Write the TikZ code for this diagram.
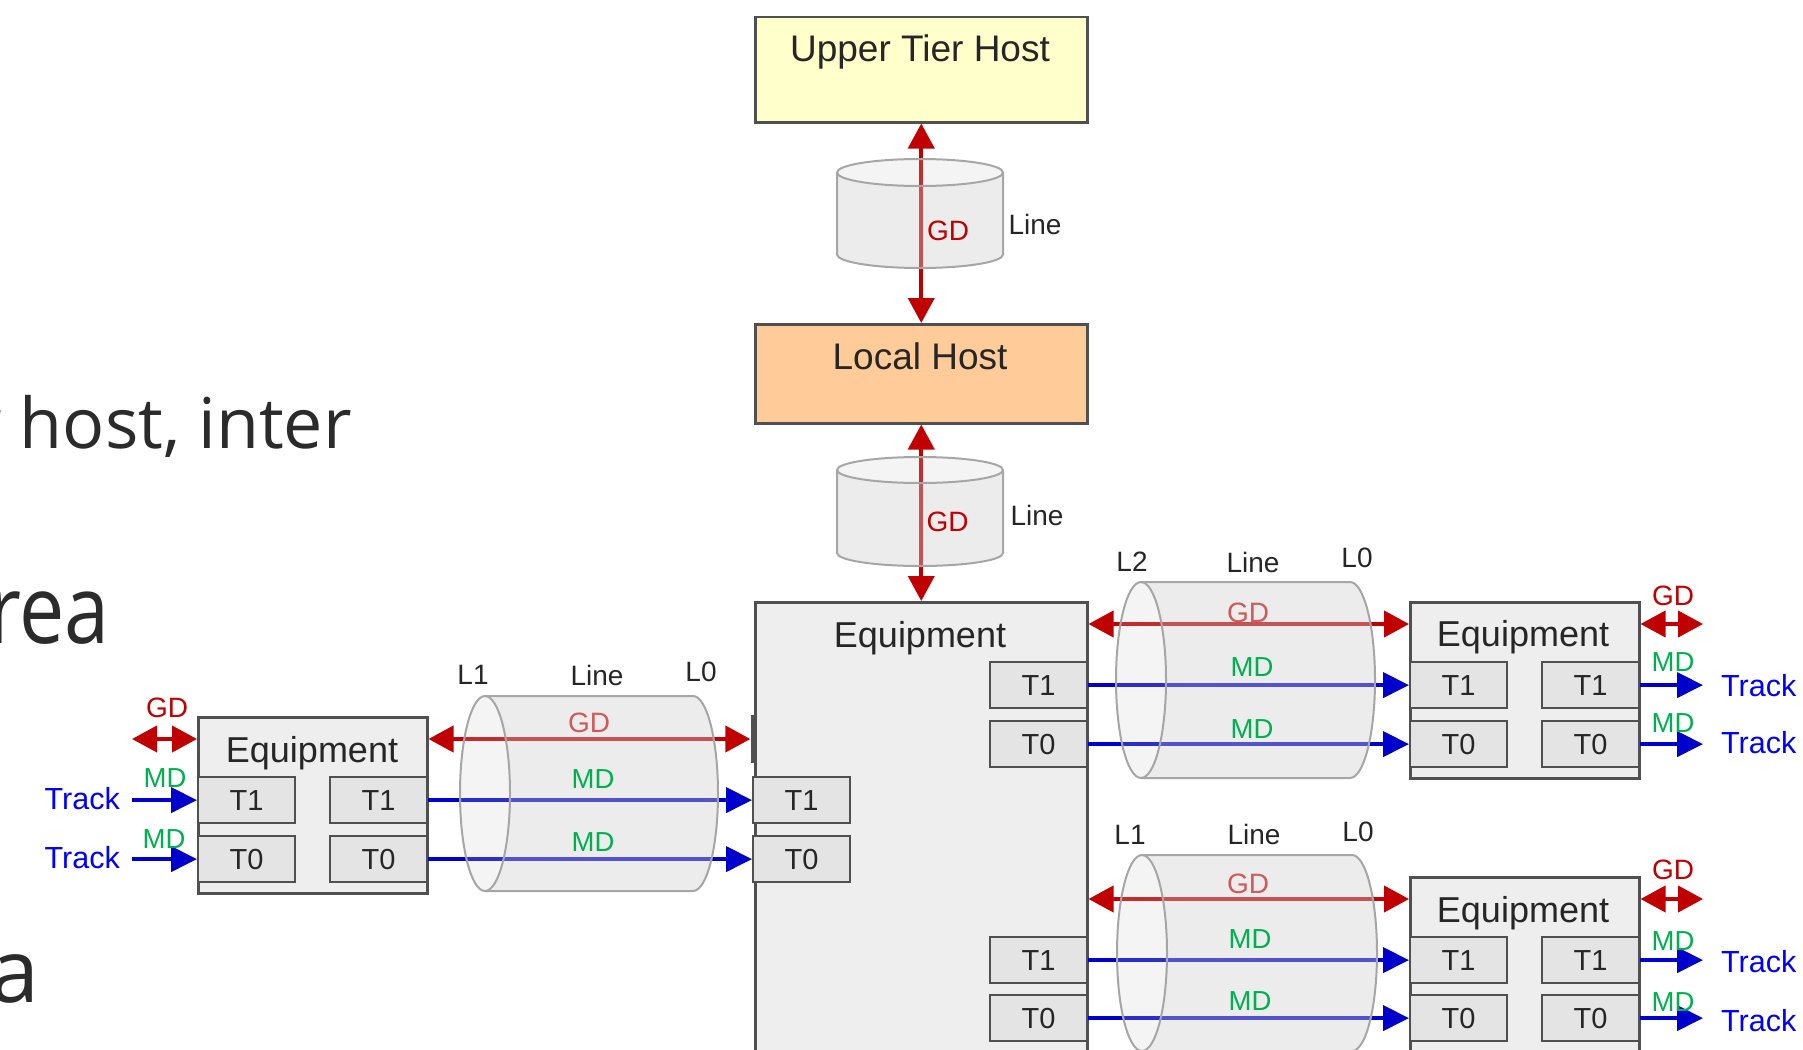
\documentclass[tikz,border=0pt]{standalone}
\usepackage{fontspec}
\setmainfont{Liberation Sans}
\newfontfamily\slidefont{Open Sans}
\usetikzlibrary{arrows.meta}
\definecolor{boxc}{HTML}{505050}
\definecolor{eqfill}{HTML}{EEEEEE}
\definecolor{tfill}{HTML}{E4E4E4}
\definecolor{cylc}{HTML}{A6A6A6}
\definecolor{cylfill}{HTML}{D0D0D0}
\definecolor{gdred}{HTML}{C00000}
\definecolor{gdlight}{HTML}{D05A5A}
\definecolor{mdblue}{HTML}{0000CC}
\definecolor{trackblue}{HTML}{0000FF}
\definecolor{mdgreen}{HTML}{00B050}
\definecolor{uthfill}{HTML}{FFFFCC}
\definecolor{lhfill}{HTML}{FFCC99}
\definecolor{txt}{HTML}{262626}
\definecolor{slidegray}{HTML}{2B2B2B}
\newcommand\fsz[1]{\fontsize{#1}{#1}\selectfont}
% horizontal cylinder: left cx, right cx, cy, ry
\newcommand\mycylh[4]{%
  \fill[cylfill, fill opacity=0.4] ({#1},{#3-#4}) -- ({#2},{#3-#4})
    arc[start angle=90,end angle=-90,x radius=25pt,y radius=#4pt] -- ({#1},{#3+#4})
    arc[start angle=-90,end angle=90,x radius=25pt,y radius=#4pt] -- cycle;
  \fill[cylfill, fill opacity=0.22] ({#1},{#3}) ellipse[x radius=25pt,y radius=#4pt];
  \draw[cylline] ({#1},{#3-#4}) -- ({#2},{#3-#4})
    arc[start angle=90,end angle=-90,x radius=25pt,y radius=#4pt] -- ({#1},{#3+#4});
  \draw[cylline] ({#1},{#3}) ellipse[x radius=25pt,y radius=#4pt];}
% vertical cylinder: cx, ytop, ybot, rx, ry
\newcommand\mycylv[5]{%
  \fill[cylfill, fill opacity=0.4] ({#1-#4},{#2}) -- ({#1-#4},{#3})
    arc[start angle=180,end angle=360,x radius=#4pt,y radius=#5pt] -- ({#1+#4},{#2})
    arc[start angle=360,end angle=180,x radius=#4pt,y radius=#5pt] -- cycle;
  \fill[cylfill, fill opacity=0.22] ({#1},{#2}) ellipse[x radius=#4pt,y radius=#5pt];
  \draw[cylline] ({#1-#4},{#2}) -- ({#1-#4},{#3})
    arc[start angle=180,end angle=360,x radius=#4pt,y radius=#5pt] -- ({#1+#4},{#2});
  \draw[cylline] ({#1},{#2}) ellipse[x radius=#4pt,y radius=#5pt];}
\begin{document}
\begin{tikzpicture}[x=1pt,y=-1pt,
  box/.style={draw=boxc, line width=2.5pt, fill=eqfill, inner sep=0pt, anchor=north west},
  tbox/.style={draw=boxc, line width=2.2pt, fill=tfill, inner sep=0pt, minimum width=97pt,
    minimum height=46pt, anchor=north west, font=\fsz{29}, text=txt},
  title/.style={anchor=base, inner sep=0pt, text=txt, font=\fsz{37}},
  eqtitle/.style={anchor=base, inner sep=0pt, text=txt, font=\fsz{36}},
  lab/.style={inner sep=0pt, font=\fsz{28}, text=txt},
  gdlab/.style={lab, text=gdred},
  mdlab/.style={inner sep=0pt, font=\fsz{27.5}, text=mdgreen},
  track/.style={inner ysep=0pt, font=\fsz{30.5}, text=trackblue},
  slide/.style={inner sep=0pt, text=slidegray, anchor=base east},
  cylline/.style={draw=cylc, line width=2pt},
  gdarrow/.style={draw=gdred, line width=4pt,
    {Triangle[length=25pt,width=26pt]}-{Triangle[length=25pt,width=26pt]}},
  mdarrow/.style={draw=mdblue, line width=4pt, -{Triangle[length=26pt,width=25pt]}},
  portmark/.style={fill=boxc, inner sep=0pt, minimum width=4pt, minimum height=48pt}
]
\path[use as bounding box, fill=white] (0,0) rectangle (1803,1049);

% background slide text fragments
\node[slide, font=\slidefont\fsz{70}] (s1) at (352,448) {r host, inter};
\node[slide, font=\slidefont\fsz{95}, xscale=0.85, transform shape] (s2) at (110,643) {rea};
\node[slide, font=\slidefont\fsz{88}] (s3) at (40,1002) {a};

% hosts
\node[box, fill=uthfill, minimum width=332pt, minimum height=105pt] (uth) at (754,16) {};
\node[title] (uthT) at (920,62) {Upper Tier Host};
\node[box, fill=lhfill, minimum width=332pt, minimum height=99pt] (lh) at (754,323) {};
\node[title] (lhT) at (920,369) {Local Host};

% main equipment
\node[box, minimum width=332pt, minimum height=470pt] (main) at (754,601) {};
\node[eqtitle] (mainT) at (920,647) {Equipment};
\node[tbox] (mT1) at (989,661) {T1};
\node[tbox] (mT0) at (989,720) {T0};
\node[tbox] (mLT1) at (752,776) {T1};
\node[tbox] (mLT0) at (752,835) {T0};
\node[tbox] (mT1b) at (989,936) {T1};
\node[tbox] (mT0b) at (989,994) {T0};
\node[portmark] (portL) at (752.5,739) {};

% left equipment
\node[box, minimum width=229pt, minimum height=176pt] (leq) at (197,716) {};
\node[eqtitle] (leqT) at (312,762) {Equipment};
\node[tbox] (lT1a) at (197,776) {T1};
\node[tbox] (lT1b) at (329,776) {T1};
\node[tbox] (lT0a) at (197,835) {T0};
\node[tbox] (lT0b) at (329,835) {T0};

% right equipment 1
\node[box, minimum width=229pt, minimum height=176pt] (eq1) at (1409,601) {};
\node[eqtitle] (eq1T) at (1523,646) {Equipment};
\node[tbox] (e1T1a) at (1409,661) {T1};
\node[tbox] (e1T1b) at (1541,661) {T1};
\node[tbox] (e1T0a) at (1409,720) {T0};
\node[tbox] (e1T0b) at (1541,720) {T0};

% right equipment 2
\node[box, minimum width=229pt, minimum height=176pt] (eq2) at (1409,876) {};
\node[eqtitle] (eq2T) at (1523,922) {Equipment};
\node[tbox] (e2T1a) at (1409,936) {T1};
\node[tbox] (e2T1b) at (1541,936) {T1};
\node[tbox] (e2T0a) at (1409,994) {T0};
\node[tbox] (e2T0b) at (1541,994) {T0};

% track labels
\node[track, anchor=east, inner xsep=12pt] (trL1) at (132,799) {Track};
\node[track, anchor=east, inner xsep=12pt] (trL0) at (132,858) {Track};
\node[track, anchor=west, inner xsep=18pt] (trA1) at (1703,686) {Track};
\node[track, anchor=west, inner xsep=18pt] (trA0) at (1703,743) {Track};
\node[track, anchor=west, inner xsep=18pt] (trB1) at (1703,962) {Track};
\node[track, anchor=west, inner xsep=18pt] (trB0) at (1703,1021) {Track};

% port coordinates
\coordinate (gL) at (132,739);
\coordinate (g0) at ([yshift=-23pt]leq.north east);
\coordinate (g1) at ([yshift=-23pt]eq1.north west);
\coordinate (g2) at ([yshift=-23pt]eq2.north west);
\coordinate (gR1) at (1703,624);
\coordinate (gR2) at (1703,899);

% vertical GD connectors
\draw[gdarrow] (uth.south) -- (lh.north);
\draw[gdarrow] (lh.south) -- (main.north);

% horizontal GD connectors
\draw[gdarrow] (gL) -- (leq.west |- gL);
\draw[gdarrow] (g0) -- (portL.west);
\draw[gdarrow] (main.east |- g1) -- (g1);
\draw[gdarrow] (main.east |- g2) -- (g2);
\draw[gdarrow] (eq1.east |- gR1) -- (gR1);
\draw[gdarrow] (eq2.east |- gR2) -- (gR2);

% MD connectors
\draw[mdarrow] (trL1.east |- lT1a.west) -- (lT1a.west);
\draw[mdarrow] (trL0.east |- lT0a.west) -- (lT0a.west);
\draw[mdarrow] (lT1b.east) -- (mLT1.west);
\draw[mdarrow] (lT0b.east) -- (mLT0.west);
\draw[mdarrow] (mT1.east) -- (e1T1a.west);
\draw[mdarrow] (mT0.east) -- (e1T0a.west);
\draw[mdarrow] (mT1b.east) -- (e2T1a.west);
\draw[mdarrow] (mT0b.east) -- (e2T0a.west);
\draw[mdarrow] (e1T1b.east) -- (e1T1b.east -| trA1.west);
\draw[mdarrow] (e1T0b.east) -- (e1T0b.east -| trA0.west);
\draw[mdarrow] (e2T1b.east) -- (e2T1b.east -| trB1.west);
\draw[mdarrow] (e2T0b.east) -- (e2T0b.east -| trB0.west);

% cylinders (lines)
\mycylv{920}{172.5}{254.5}{83}{13.5}
\mycylv{920}{470}{553}{83}{13}
\mycylh{485}{693}{793.5}{97.5}
\mycylh{1141}{1350}{680}{98}
\mycylh{1142}{1352}{953}{98}

% labels of vertical lines
\node[gdlab] (gdv1) at (948,230.5) {GD};
\node[lab] (lnv1) at (1035,224) {Line};
\node[gdlab] (gdv2) at (947.5,522) {GD};
\node[lab] (lnv2) at (1037,515) {Line};

% left line labels
\node[lab] (lcL1) at (473,675) {L1};
\node[lab] (lcLn) at (597,675) {Line};
\node[lab] (lcL0) at (701,672) {L0};
\node[gdlab, text=gdlight] (lcGD) at (589,723) {GD};
\node[mdlab] (lcMD1) at (593,779.5) {MD};
\node[mdlab] (lcMD0) at (593,842) {MD};

% upper right line labels
\node[lab] (u2L2) at (1132,561.5) {L2};
\node[lab] (u2Ln) at (1253,562) {Line};
\node[lab] (u2L0) at (1357,558) {L0};
\node[gdlab, text=gdlight] (u2GD) at (1248,612.5) {GD};
\node[mdlab] (u2MD1) at (1252,667.5) {MD};
\node[mdlab] (u2MD0) at (1252,729.5) {MD};

% lower right line labels
\node[lab] (d2L1) at (1130,834.5) {L1};
\node[lab] (d2Ln) at (1254,834.5) {Line};
\node[lab] (d2L0) at (1358,832) {L0};
\node[gdlab, text=gdlight] (d2GD) at (1248,883.5) {GD};
\node[mdlab] (d2MD1) at (1250,939.5) {MD};
\node[mdlab] (d2MD0) at (1250,1001.5) {MD};

% small connector labels
\node[gdlab] (sGDL) at (167,707.5) {GD};
\node[mdlab] (sMDL1) at (165,778.5) {MD};
\node[mdlab] (sMDL0) at (164,839.5) {MD};
\node[gdlab] (sGDA) at (1673,596) {GD};
\node[mdlab] (sMDA1) at (1673,662) {MD};
\node[mdlab] (sMDA0) at (1673,723.5) {MD};
\node[gdlab] (sGDB) at (1673,870) {GD};
\node[mdlab] (sMDB1) at (1673,941) {MD};
\node[mdlab] (sMDB0) at (1673,1002.5) {MD};
\end{tikzpicture}
\end{document}
